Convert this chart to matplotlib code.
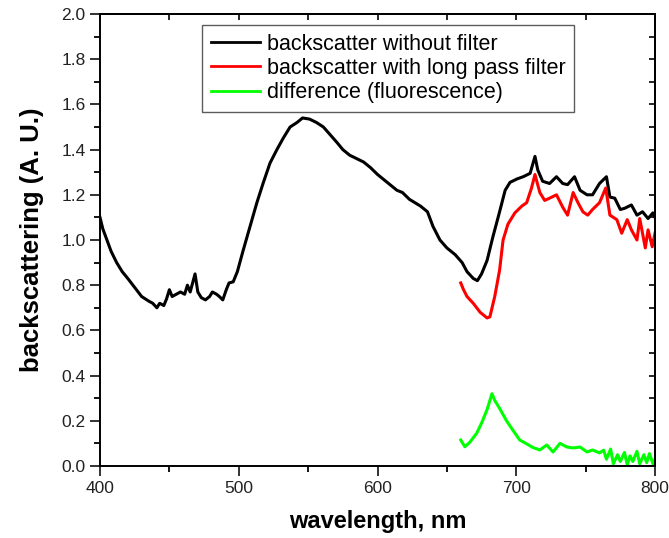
import matplotlib
matplotlib.use('Agg')
import matplotlib.pyplot as plt
from matplotlib.ticker import MultipleLocator

plt.rcParams['font.family'] = ['Liberation Sans', 'DejaVu Sans']

# backscatter without filter (black)
wl_black = [400, 402, 405, 408, 412, 416, 420, 425, 430, 435, 438, 441, 443, 446, 448,
            450, 452, 455, 458, 461, 463, 465, 468.5, 470.5, 473, 476, 479, 481, 484, 486,
            488.5, 491, 493, 496, 499, 503, 508, 513, 517.5, 522.5, 527.5, 532, 537, 542,
            546, 551, 556, 561, 566, 571, 575, 580, 585, 590, 595, 600, 604, 609, 614, 618,
            623, 627, 631, 636, 640, 645, 650, 656, 661, 664.5, 669, 672, 675, 679, 683,
            688, 692, 695.5, 700.5, 705, 710, 713.5, 715.5, 719, 724, 729, 733.5, 737, 742,
            746, 751, 755, 760, 765, 767.5, 771, 775, 778, 783, 787, 791, 795, 798.5, 800]
bs_black = [1.10, 1.05, 1.00, 0.95, 0.90, 0.86, 0.83, 0.79, 0.75, 0.73, 0.72, 0.70, 0.72, 0.71, 0.74,
            0.78, 0.75, 0.76, 0.77, 0.76, 0.80, 0.77, 0.85, 0.77, 0.745, 0.735, 0.75, 0.77, 0.76, 0.75,
            0.735, 0.78, 0.81, 0.815, 0.86, 0.95, 1.057, 1.164, 1.25, 1.34, 1.40, 1.45, 1.50, 1.52,
            1.54, 1.535, 1.52, 1.50, 1.465, 1.43, 1.40, 1.375, 1.36, 1.345, 1.32, 1.29, 1.27, 1.245, 1.22, 1.21,
            1.18, 1.165, 1.15, 1.125, 1.06, 1.00, 0.965, 0.935, 0.90, 0.86, 0.83, 0.82, 0.85, 0.91, 1.01,
            1.125, 1.22, 1.255, 1.27, 1.28, 1.295, 1.37, 1.31, 1.26, 1.25, 1.28, 1.25, 1.245, 1.28,
            1.22, 1.20, 1.20, 1.25, 1.28, 1.19, 1.185, 1.135, 1.14, 1.155, 1.11, 1.125, 1.095, 1.12, 1.10]

# backscatter with long pass filter (red)
wl_red = [660, 662, 664.5, 669, 674, 677, 679, 681, 684.5, 688, 690.5, 694, 699, 704, 707.5,
          711, 713.5, 717, 720.5, 724, 729, 733.5, 737, 741, 744.5, 748, 751.5, 755, 760,
          764.5, 767.5, 772.5, 776, 780, 783, 787, 789, 793, 795, 798, 800]
bs_red = [0.81, 0.78, 0.75, 0.72, 0.68, 0.665, 0.655, 0.66, 0.75, 0.867, 1.00, 1.07, 1.12, 1.15, 1.165,
          1.23, 1.29, 1.21, 1.175, 1.185, 1.20, 1.145, 1.11, 1.21, 1.165, 1.125, 1.11, 1.135, 1.165,
          1.23, 1.11, 1.09, 1.03, 1.09, 1.045, 1.00, 1.095, 0.965, 1.045, 0.97, 1.03]

# difference (fluorescence) (green)
wl_green = [660, 663, 666.5, 671.5, 675, 679, 682.5, 684.5, 688, 693, 697.5, 702.5, 707.5, 712,
            717, 722, 726.5, 731.5, 736.5, 741, 746, 751, 755, 760, 763, 765, 768, 770, 773,
            775, 778, 780, 782, 784, 787, 789, 792, 794, 796, 798.5, 800]
bs_green = [0.115, 0.085, 0.105, 0.145, 0.19, 0.25, 0.32, 0.29, 0.255, 0.20, 0.159, 0.115, 0.098, 0.082,
            0.071, 0.093, 0.062, 0.10, 0.084, 0.08, 0.084, 0.062, 0.071, 0.058, 0.07, 0.03, 0.075, 0.01,
            0.05, 0.02, 0.06, 0.005, 0.045, 0.02, 0.065, 0.01, 0.05, 0.015, 0.055, 0.01, 0.03]

fig = plt.figure(figsize=(6.69, 5.38), dpi=100)
ax = fig.add_axes([100/669, 72/538, 555/669, 452/538])

ax.plot(wl_black, bs_black, color='black', lw=2.2, label='backscatter without filter')
ax.plot(wl_red, bs_red, color='#ff0000', lw=2.2, label='backscatter with long pass filter')
ax.plot(wl_green, bs_green, color='#00ff00', lw=2.2, label='difference (fluorescence)')

ax.set_xlim(400, 800)
ax.set_ylim(0, 2.0)
ax.xaxis.set_major_locator(MultipleLocator(100))
ax.xaxis.set_minor_locator(MultipleLocator(50))
ax.yaxis.set_major_locator(MultipleLocator(0.2))
ax.yaxis.set_minor_locator(MultipleLocator(0.1))
ax.yaxis.set_major_formatter(plt.FormatStrFormatter('%.1f'))
ax.tick_params(which='major', direction='out', length=7, width=1.3, labelsize=12.5, colors='#222222')
ax.tick_params(which='minor', direction='out', length=4, width=1.3)
ax.tick_params(axis='x', pad=4)
for s in ax.spines.values():
    s.set_linewidth(1.4)

top = ax.secondary_xaxis('top')
top.xaxis.set_major_locator(MultipleLocator(50))
top.tick_params(direction='in', length=4, width=1.2, labeltop=False)
top.spines['top'].set_linewidth(1.4)
right = ax.secondary_yaxis('right')
right.yaxis.set_major_locator(MultipleLocator(0.1))
right.tick_params(direction='in', length=4, width=1.2, labelright=False)
right.spines['right'].set_linewidth(1.4)

ax.set_xlabel('wavelength, nm', fontsize=17, fontweight='bold', labelpad=10)
ax.set_ylabel('backscattering (A. U.)', fontsize=18.5, fontweight='bold', labelpad=12)

leg = ax.legend(loc='upper left', bbox_to_anchor=(202/669, 1 - 25/538),
                bbox_transform=fig.transFigure, borderaxespad=0, fontsize=15.5,
                frameon=True, fancybox=False, edgecolor='#333333', handlelength=2.3,
                handletextpad=0.3, labelspacing=0.15, borderpad=0.4)
leg.get_frame().set_linewidth(1.0)
for h in leg.get_lines():
    h.set_linewidth(2.0)

fig.savefig('out.png', dpi=100)
